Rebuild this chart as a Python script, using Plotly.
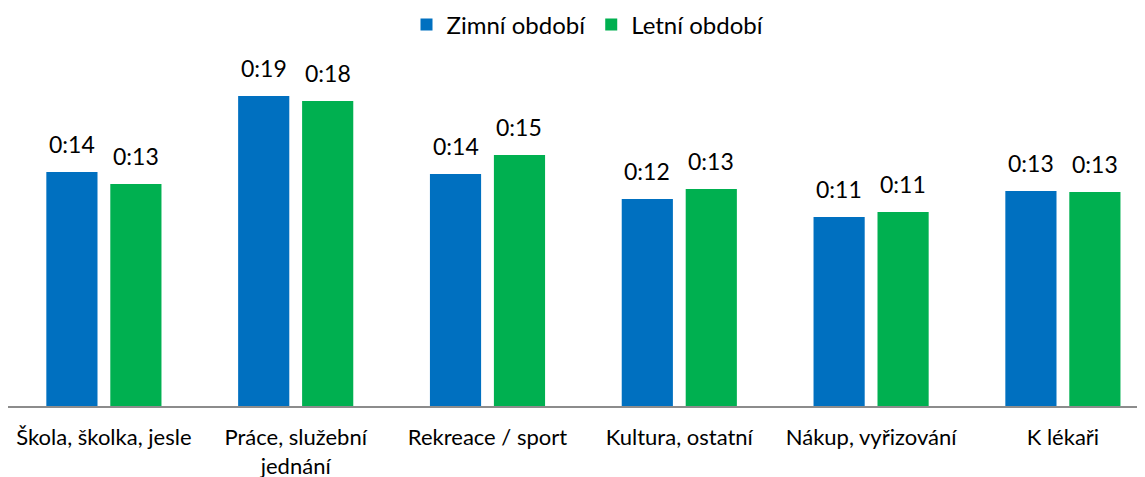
import math
import plotly.graph_objects as go

categories = ["Škola, školka, jesle", "Práce, služební<br>jednání", "Rekreace / sport",
              "Kultura, ostatní", "Nákup, vyřizování", "K lékaři"]
series_names = ["Zimní období", "Letní období"]
# travel time in minutes
zimni = [14.4, 19.08, 14.28, 12.74, 11.63, 13.23]
letni = [13.66, 18.77, 15.45, 13.35, 11.94, 13.17]
colors = ["#0070C0", "#00B050"]

def fmt(m):
    mins = int(math.floor(m))
    return f"{mins // 60}:{mins % 60:02d}"

font_family = "Lato, 'Open Sans', sans-serif"

fig = go.Figure()
for name, vals, col in zip(series_names, [zimni, letni], colors):
    fig.add_trace(go.Bar(x=categories, y=vals, name=name, marker=dict(color=col, line=dict(width=0)),
                         hoverinfo="skip"))

bargap = 0.333
off = (1 - bargap) / 4
for vals, sign in [(zimni, -1), (letni, 1)]:
    for i, v in enumerate(vals):
        fig.add_annotation(x=i + sign * off, y=v, xref="x", yref="y", text=fmt(v),
                           showarrow=False, yanchor="bottom", yshift=12,
                           font=dict(family=font_family, size=23, color="#000000"))

W, H = 1145, 477
left, top, bottom = 0, 52, 79
pitch = 191.8
plot_w = W - left
xmax = plot_w / pitch - 0.5
plot_h = H - top - bottom
ymax = plot_h / 16.25

fig.update_layout(
    width=W, height=H,
    margin=dict(l=left, r=0, t=top, b=bottom, pad=0, autoexpand=False),
    paper_bgcolor="white", plot_bgcolor="white",
    barmode="group", bargap=bargap, bargroupgap=0.2,
    showlegend=True,
    legend=dict(orientation="h", xref="container", yref="container",
                x=580 / W, xanchor="center",
                y=1 - 17 / H, yanchor="middle",
                font=dict(family=font_family, size=24, color="#000000"),
                itemwidth=30, tracegroupgap=0),
    font=dict(family=font_family),
)
fig.update_xaxes(type="category", range=[-0.5, xmax], showline=True, linecolor="#8c8c8c", linewidth=2,
                 showgrid=False, ticks="", ticklabelstandoff=11, automargin=False,
                 tickfont=dict(family=font_family, size=22, color="#000000"))
fig.update_yaxes(range=[0, ymax], visible=False, showgrid=False, zeroline=False)

fig.write_html("out.html")
